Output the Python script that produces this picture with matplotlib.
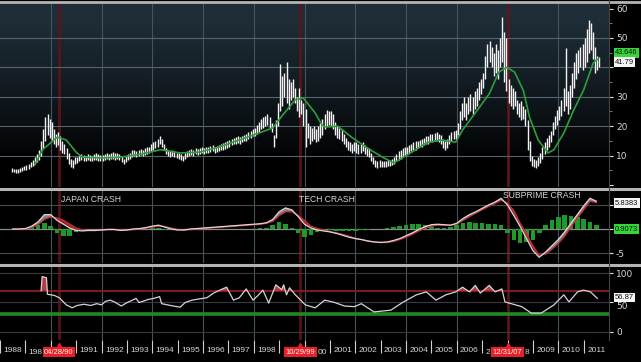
import numpy as np
import matplotlib
matplotlib.use("Agg")
import matplotlib.pyplot as plt
from matplotlib.lines import Line2D

# ---- price bars: monthly low/high, Jun 1988 .. Aug 2011 ----
price_low = [
    4.5, 4.3, 4.2, 4.0, 4.3, 4.6, 5.0,  # 1988
    5.2, 5.5, 6.0, 6.5, 7.0, 7.8, 8.5, 10.0, 12.5, 15.0, 17.0, 16.0,  # 1989
    15.0, 14.0, 13.0, 13.5, 12.0, 11.0, 10.5, 9.0, 7.0, 6.0, 5.8, 7.0,  # 1990
    7.5, 8.0, 8.5, 8.0, 8.3, 8.5, 8.2, 8.0, 8.4, 8.6, 8.2, 8.0,  # 1991
    8.3, 8.6, 8.8, 8.5, 8.9, 9.0, 8.6, 8.8, 8.5, 7.8, 7.0, 7.8,  # 1992
    8.5, 9.0, 9.5, 9.8, 9.5, 10.0, 10.2, 9.8, 10.3, 10.5, 10.8, 11.5,  # 1993
    12.0, 12.5, 13.0, 14.0, 13.0, 12.0, 10.5, 10.0, 9.5, 9.8, 9.5, 9.2,  # 1994
    9.0, 8.5, 8.0, 8.8, 9.5, 10.0, 10.2, 10.0, 10.5, 10.3, 10.6, 10.8,  # 1995
    10.5, 10.8, 11.0, 11.2, 11.5, 11.0, 11.3, 11.6, 11.8, 12.0, 12.3, 12.5,  # 1996
    13.0, 13.5, 13.8, 14.0, 14.3, 14.0, 14.5, 14.8, 15.0, 15.5, 16.0, 16.5,  # 1997
    16.8, 17.5, 18.0, 19.0, 19.5, 20.0, 20.5, 19.5, 18.0, 13.0, 16.0, 20.0,  # 1998
    25.0, 27.0, 30.0, 28.0, 26.0, 29.0, 30.0, 28.0, 25.0, 23.0, 24.0, 20.0,  # 1999
    13.0, 16.0, 14.0, 15.0, 15.5, 14.5, 15.0, 16.0, 17.0, 19.0, 20.0, 20.5,  # 2000
    20.0, 19.0, 17.0, 16.0, 15.5, 15.0, 14.0, 13.0, 12.0, 11.5, 11.0, 11.5,  # 2001
    11.0, 10.5, 11.0, 11.5, 10.5, 10.0, 9.5, 8.0, 7.0, 6.0, 5.8, 6.2,  # 2002
    6.0, 6.2, 6.0, 6.5, 6.3, 6.8, 7.0, 8.0, 8.5, 9.0, 9.5, 10.0,  # 2003
    10.5, 11.0, 11.5, 12.0, 12.0, 12.5, 12.8, 13.0, 13.5, 14.0, 14.0, 14.5,  # 2004
    14.5, 14.8, 15.0, 14.5, 14.0, 12.5, 12.0, 12.5, 14.0, 15.0, 15.5, 15.5,  # 2005
    17.0, 19.0, 22.0, 23.0, 22.0, 24.0, 25.0, 24.0, 26.0, 27.0, 29.0, 31.0,  # 2006
    33.0, 36.0, 40.0, 42.0, 40.0, 37.0, 38.0, 36.0, 40.0, 42.0, 35.0, 32.0,  # 2007
    28.0, 27.0, 26.0, 27.0, 24.0, 23.0, 22.0, 22.5, 20.0, 12.0, 8.0, 6.5,  # 2008
    6.0, 5.8, 6.5, 7.5, 9.0, 10.5, 12.0, 13.0, 14.5, 17.0, 19.0, 20.5,  # 2009
    22.0, 23.5, 25.0, 27.0, 24.0, 26.0, 30.0, 33.0, 36.0, 38.0, 40.0, 39.0,  # 2010
    40.0, 42.0, 45.0, 46.0, 43.0, 38.0, 39.0, 40.0,  # 2011
]
price_high = [
    5.8, 5.6, 5.5, 5.4, 5.7, 6.2, 6.6,
    6.8, 7.2, 7.8, 8.5, 9.5, 10.5, 12.0, 15.0, 19.0, 23.0, 24.0, 22.5,
    21.5, 19.0, 17.5, 18.0, 16.5, 15.0, 14.0, 12.5, 11.0, 9.0, 8.5, 9.5,
    9.5, 10.0, 10.5, 10.2, 10.0, 10.5, 10.3, 10.0, 10.6, 10.8, 10.4, 10.2,
    10.3, 10.6, 11.0, 10.7, 11.0, 11.2, 10.8, 10.9, 10.6, 9.8, 9.0, 9.8,
    10.5, 11.0, 11.8, 12.0, 11.5, 12.0, 12.4, 12.0, 12.5, 12.8, 13.0, 13.8,
    14.5, 15.0, 15.5, 16.5, 15.5, 14.0, 12.5, 12.0, 11.5, 11.8, 11.5, 11.0,
    11.0, 10.5, 10.0, 10.8, 11.5, 12.0, 12.2, 12.0, 12.5, 12.3, 12.6, 12.8,
    12.5, 12.8, 13.0, 13.3, 13.6, 13.0, 13.4, 13.7, 14.0, 14.2, 14.5, 15.0,
    15.2, 15.7, 16.0, 16.3, 16.5, 16.2, 16.8, 17.0, 17.5, 18.0, 18.5, 19.0,
    19.5, 20.5, 21.5, 22.5, 23.0, 23.5, 24.0, 23.0, 21.0, 17.0, 22.0, 28.0,
    41.0, 37.0, 38.0, 42.0, 36.0, 35.0, 36.0, 33.0, 30.0, 33.0, 29.0, 28.0,
    26.0, 21.0, 20.0, 19.5, 20.0, 19.0, 20.0, 21.0, 22.5, 24.0, 25.5, 25.0,
    25.0, 24.0, 21.5, 20.0, 19.5, 19.0, 17.5, 16.0, 15.0, 14.5, 14.0, 14.5,
    14.5, 14.0, 14.0, 14.5, 13.5, 13.0, 12.5, 11.0, 9.5, 8.5, 8.0, 8.5,
    8.0, 8.3, 8.2, 8.5, 8.4, 9.0, 9.5, 10.5, 11.5, 12.0, 12.5, 13.0,
    13.0, 13.5, 14.0, 14.5, 14.8, 15.0, 15.3, 15.5, 16.0, 16.5, 16.8, 17.5,
    17.5, 17.8, 18.0, 17.5, 17.0, 15.5, 15.0, 15.5, 17.0, 18.0, 18.5, 18.8,
    21.0, 25.0, 28.0, 30.0, 28.0, 30.0, 31.0, 30.0, 32.0, 33.0, 35.0, 36.0,
    38.0, 44.0, 48.0, 49.0, 47.0, 45.0, 48.0, 46.0, 50.0, 57.0, 52.0, 50.0,
    36.0, 34.0, 33.0, 32.0, 29.0, 28.0, 28.5, 27.0, 26.0, 22.0, 15.0, 10.0,
    9.0, 8.5, 9.5, 11.0, 13.0, 14.5, 16.0, 17.0, 18.5, 21.5, 23.5, 25.5,
    27.0, 29.0, 33.0, 46.5, 32.0, 34.0, 38.0, 42.0, 45.0, 46.0, 47.0, 48.0,
    50.0, 53.0, 56.0, 55.0, 52.0, 47.0, 44.0, 43.5,
]

# ---- moving average (green) ----
ma_years = [1989.37, 1989.68, 1990.03, 1990.26, 1990.61, 1991.0, 1991.23, 1992.0,
            1992.78, 1993.55, 1994.33, 1995.1, 1995.88, 1996.66, 1997.43, 1998.21,
            1998.75, 1999.14, 1999.64, 1999.95, 2000.42, 2000.69, 2000.8, 2001.31,
            2001.85, 2002.47, 2003.13, 2003.52, 2004.18, 2004.8, 2005.34, 2005.96,
            2006.23, 2006.73, 2007.28, 2007.66, 2007.97, 2008.28, 2008.63, 2008.87,
            2009.21, 2009.6, 2009.83, 2010.22, 2010.61, 2011.0, 2011.38, 2011.58]
ma_values = [6.8, 12.0, 14.6, 16.3, 15.3, 11.2, 9.5, 9.2,
             9.5, 10.5, 12.0, 10.9, 11.2, 13.0, 15.3, 17.7,
             19.4, 23.8, 29.0, 29.6, 24.5, 20.4, 19.7, 20.0,
             16.3, 12.6, 9.2, 7.5, 10.9, 14.3, 15.3, 14.6,
             18.7, 24.5, 31.0, 38.4, 40.0, 38.4, 32.0, 23.0,
             15.3, 10.9, 12.0, 17.7, 25.5, 32.3, 41.5, 43.0]

# ---- MACD panel, quarterly from 1988.5 to 2011.5 ----
macd_line = [
    0.0, 0.0,
    0.1, 0.6, 1.5, 3.0,  3.0, 1.8, 1.0, 0.2,
    -0.3, -0.4, -0.3, -0.3,  -0.2, -0.1, -0.1, -0.3,
    -0.2, 0.0, 0.1, 0.3,  0.6, 0.8, 0.4, 0.0,
    -0.2, -0.2, 0.0, 0.1,  0.2, 0.3, 0.4, 0.5,
    0.6, 0.7, 0.8, 0.9,  1.0, 1.1, 1.3, 2.0,
    3.6, 4.4, 4.0, 2.6,  1.0, 0.2, -0.2, -0.4,
    -0.6, -0.9, -1.3, -1.7,  -2.0, -2.2, -2.5, -2.7,
    -2.8, -2.7, -2.4, -2.0,  -1.4, -0.8, -0.1, 0.5,
    0.9, 1.0, 0.9, 0.8,  1.2, 2.2, 3.0, 3.6,
    4.3, 5.0, 5.6, 6.4,  5.0, 2.8, 0.5, -2.0,
    -4.5, -5.9, -4.8, -3.5,  -2.2, -0.6, 1.2, 3.0,
    4.8, 6.4, 5.8,
]
macd_signal = [
    0.0, 0.0,
    0.0, 0.3, 0.9, 2.0,  2.5, 2.3, 1.8, 1.0,
    0.2, -0.2, -0.3, -0.3,  -0.2, -0.1, -0.1, -0.2,
    -0.2, -0.1, 0.0, 0.2,  0.4, 0.6, 0.5, 0.2,
    -0.1, -0.2, -0.1, 0.0,  0.1, 0.2, 0.3, 0.4,
    0.5, 0.6, 0.7, 0.8,  0.9, 1.0, 1.2, 1.6,
    2.8, 3.6, 3.6, 2.8,  1.8, 0.6, 0.1, -0.2,
    -0.5, -0.8, -1.1, -1.5,  -1.9, -2.2, -2.5, -2.7,
    -2.8, -2.8, -2.6, -2.2,  -1.7, -1.1, -0.4, 0.2,
    0.6, 0.8, 0.8, 0.8,  1.0, 1.8, 2.6, 3.3,
    4.0, 4.7, 5.3, 6.0,  5.4, 3.8, 1.2, -1.0,
    -3.5, -5.5, -5.2, -4.2,  -3.0, -1.5, 0.4, 2.3,
    4.0, 5.8, 5.5,
]
macd_hist = [
    0.0, 0.0,
    0.1, 0.4, 0.8, 1.2,  0.6, -0.8, -1.5, -1.4,
    -0.6, -0.2, 0.0, 0.0,  0.0, 0.0, 0.0, -0.1,
    0.0, 0.1, 0.1, 0.1,  0.2, 0.3, -0.2, -0.3,
    -0.2, 0.0, 0.1, 0.1,  0.1, 0.1, 0.1, 0.1,
    0.1, 0.1, 0.1, 0.1,  0.1, 0.2, 0.3, 0.8,
    1.5, 1.0, 0.2, -0.8,  -1.6, -1.2, -0.6, -0.3,
    -0.3, -0.4, -0.5, -0.5,  -0.4, -0.3, -0.2, -0.1,
    0.1, 0.3, 0.5, 0.7,  0.9, 1.0, 1.0, 0.8,
    0.5, 0.3, 0.3, 0.5,  0.9, 1.3, 1.4, 1.3,
    1.2, 1.1, 1.1, 0.8,  -0.8, -2.2, -3.0, -2.8,
    -2.2, -0.8, 0.8, 1.8,  2.5, 3.0, 2.8, 2.6,
    2.0, 1.5, 0.9,
]

# ---- RSI panel ----
rsi_years = [1989.62, 1989.66, 1989.83, 1989.87, 1990.14, 1990.34, 1990.61, 1990.84,
             1991.04, 1991.31, 1991.58, 1991.81, 1992.0, 1992.16, 1992.35, 1992.55,
             1992.78, 1992.97, 1993.17, 1993.36, 1993.48, 1993.63, 1993.83, 1994.06,
             1994.29, 1994.37, 1994.6, 1994.83, 1995.1, 1995.3, 1995.57, 1995.84,
             1996.15, 1996.42, 1996.66, 1996.93, 1997.2, 1997.43, 1997.7, 1997.97,
             1998.17, 1998.36, 1998.59, 1998.87, 1999.1, 1999.18, 1999.29, 1999.41,
             1999.64, 2000.03, 2000.42, 2000.8, 2001.19, 2001.58, 2001.97, 2002.24,
             2002.74, 2003.4, 2003.9, 2004.41, 2004.8, 2005.18, 2005.57, 2005.96,
             2006.23, 2006.5, 2006.73, 2006.93, 2007.28, 2007.51, 2007.78, 2007.9,
             2008.56, 2008.94, 2009.33, 2009.83, 2010.22, 2010.42, 2010.76, 2011.0,
             2011.27, 2011.54]
rsi_values = [70, 94, 92, 64, 62, 58, 46, 41,
              45, 47, 45, 48, 46, 52, 54, 50,
              44, 49, 53, 57, 50, 52, 55, 57,
              60, 48, 46, 44, 42, 50, 54, 56,
              58, 66, 71, 76, 54, 58, 73, 54,
              62, 71, 49, 80, 72, 80, 63, 75,
              63, 46, 41, 54, 50, 44, 43, 48,
              34, 37, 51, 63, 68, 54, 63, 68,
              76, 68, 79, 66, 79, 68, 73, 51,
              43, 32, 32, 46, 63, 51, 68, 71,
              68, 57]

crash_dates = [1990.32, 1999.83, 2008.0]
crash_labels = ["04/28/90", "10/29/99", "12/31/07"]
years = list(range(1988, 2012))
# year labels partly hidden behind the red date boxes
partial_left = {1989: "198", 2007: "2"}    # text ends at the box's left edge
partial_right = {2000: "00", 2008: "8"}    # text starts at the box's right edge
hidden = {1990, 1999}

XMIN, XMAX = 1988.4, 2012.0
GRID = "#45535d"
TXT = "#d6d6d6"
FONT = "Liberation Sans"

fig = plt.figure(figsize=(6.41, 3.62), dpi=100, facecolor="black")
H = 362.0
W = 641.0
right = 609 / W
ax1 = fig.add_axes([0, (362 - 187) / H, right, 184 / H])
ax2 = fig.add_axes([0, (362 - 263) / H, right, 73 / H], sharex=ax1)
ax3 = fig.add_axes([0, (362 - 340) / H, right, 74 / H], sharex=ax1)

for ax in (ax1, ax2, ax3):
    ax.set_facecolor("black")
    for s in ax.spines.values():
        s.set_visible(False)
    ax.yaxis.tick_right()
    ax.tick_params(axis="y", colors="#e0e0e0", labelcolor=TXT, labelsize=6.5,
                   length=3, width=0.8, pad=2)
    ax.tick_params(axis="y", which="minor", colors="#909090", length=2)
    for yr in range(1990, 2012, 2):
        ax.axvline(yr, color=GRID, lw=0.8, zorder=1)
    for d in crash_dates:
        ax.axvline(d, color="#5e1418", lw=2.0, alpha=0.9, zorder=1)

# --- top: price ---
grad = np.linspace(1, 0, 256).reshape(-1, 1)
grad = np.clip(grad * 1.3 - 0.2, 0, 1) ** 0.8
cols = np.zeros((256, 1, 3))
cols[:, :, 0] = grad * 0.12
cols[:, :, 1] = grad * 0.18
cols[:, :, 2] = grad * 0.22
ax1.imshow(cols, extent=[0, 1, 0, 1], transform=ax1.transAxes, aspect="auto",
           zorder=0, interpolation="bilinear")
ax1.set_xlim(XMIN, XMAX)
ax1.set_ylim(-0.68, 61.9)
for v in (10, 20, 30, 40, 50):
    ax1.axhline(v, color="#56646e", lw=0.8, zorder=1)
x_bars = 1988 + (5 + np.arange(len(price_low)) + 0.5) / 12
ax1.vlines(x_bars, price_low, price_high, color="#f2f2f2", lw=1.0, zorder=3)
ax1.plot(ma_years, ma_values, color="#2f9e3a", lw=1.2, zorder=4)
ax1.set_yticks([0, 10, 20, 30, 40, 50, 60])
ax1.set_yticklabels(["", "10", "20", "30", "", "50", "60"])
ax1.set_yticks(np.arange(5, 60, 10), minor=True)

# --- middle: MACD ---
t_q = 1988.5 + 0.25 * np.arange(len(macd_line))
ax2.set_ylim(-7.08, 8.13)
for v in (-5, 5):
    ax2.axhline(v, color="#4a4a4a", lw=0.8, zorder=1)
ax2.axhline(0, color="#8a8a8a", lw=0.9, zorder=1)
ax2.bar(t_q, macd_hist, width=0.18, color="#1e9a28", zorder=2)
m = np.array(macd_line)
s = np.array(macd_signal)
ax2.fill_between(t_q, m, s, where=m >= s, interpolate=True, color="#9c9c9c",
                 alpha=0.85, lw=0, zorder=3)
ax2.fill_between(t_q, m, s, where=m < s, interpolate=True, color="#b3222c",
                 alpha=0.9, lw=0, zorder=3)
ax2.plot(t_q, s, color="#c0303a", lw=1.0, zorder=4)
ax2.plot(t_q, m, color="#d8d8d8", lw=0.9, zorder=5)
ax2.set_yticks([-5, 0, 5])
ax2.set_yticklabels(["-5", "", ""])
for label, xx, yy in [("JAPAN CRASH", 1991.58, 6.2), ("TECH CRASH", 2000.9, 6.2),
                      ("SUBPRIME CRASH", 2009.35, 7.0)]:
    ax2.text(xx, yy, label, color=TXT, fontsize=6.2, ha="center",
             va="center", family=FONT, zorder=6)

# --- bottom: RSI ---
ax3.set_ylim(-13.6, 111.9)
for v in (0, 50, 100):
    ax3.axhline(v, color="#3a3a3a", lw=0.8, zorder=1)
ax3.axhline(70, color="#8c1c22", lw=1.3, zorder=2)
ax3.axhline(30, color="#1f8a24", lw=2.6, zorder=2)
r = np.array(rsi_values, dtype=float)
ax3.fill_between(rsi_years, r, 70, where=r > 70, interpolate=True,
                 color="#c0404a", lw=0, alpha=0.95, zorder=3)
ax3.plot(rsi_years, r, color="#d4d4d4", lw=0.9, zorder=4)
ax3.set_yticks([0, 50, 100])
ax3.set_yticklabels(["0", "50", "100"])
# the last-value tag sits over the "50" label: nudge that label down a little
ax3.get_yticklabels()[1].set_va("top")

# x axis: year separators + centred labels
for ax in (ax1, ax2):
    ax.tick_params(axis="x", which="both", bottom=False, labelbottom=False)
ax3.set_xticks(years)
ax3.set_xticklabels([])
ax3.tick_params(axis="x", which="major", colors="#cfcfcf", length=9,
                width=0.8, direction="out")
ax3.set_xticks([y + 0.5 for y in years], minor=True)
year_text = []
for y in years:
    if y in hidden or y in partial_left or y in partial_right:
        year_text.append("")
    else:
        year_text.append(str(y))
ax3.set_xticklabels(year_text, minor=True)
ax3.tick_params(axis="x", which="minor", length=0, labelsize=6,
                labelcolor=TXT, pad=5)
for lab in ax3.get_xticklabels(minor=True):
    lab.set_family(FONT)

LAB_Y = -0.165
for d, lab in zip(crash_dates, crash_labels):
    ax3.annotate(lab, xy=(d, LAB_Y), xycoords=("data", "axes fraction"),
                 ha="center", va="center", fontsize=5.5, color="white",
                 family=FONT, zorder=10, annotation_clip=False,
                 bbox=dict(boxstyle="square,pad=0.2", fc="#ee1c24", ec="none"))
    ax3.plot([d], [LAB_Y + 0.1], marker="^", ms=3, color="#ee1c24",
             transform=ax3.get_xaxis_transform(), clip_on=False, zorder=10)

for y, txt in partial_left.items():
    d = min(crash_dates, key=lambda c: abs(c - y))
    ax3.annotate(txt, xy=(d, LAB_Y), xycoords=("data", "axes fraction"),
                 xytext=(-17, 0), textcoords="offset pixels", ha="right",
                 va="center", fontsize=6, color=TXT, family=FONT,
                 annotation_clip=False)
for y, txt in partial_right.items():
    d = min(crash_dates, key=lambda c: abs(c - y))
    ax3.annotate(txt, xy=(d, LAB_Y), xycoords=("data", "axes fraction"),
                 xytext=(17, 0), textcoords="offset pixels", ha="left",
                 va="center", fontsize=6, color=TXT, family=FONT,
                 annotation_clip=False)


# value tags on the right
def tag(ax, y, text, fc, tc="#111111", size=5.5):
    ax.annotate(text, xy=(1.0, y), xycoords=("axes fraction", "data"),
                xytext=(6, 0), textcoords="offset pixels", ha="left",
                va="center", fontsize=size, color=tc, family=FONT,
                annotation_clip=False,
                bbox=dict(boxstyle="square,pad=0.15", fc=fc, ec="none"))


tag(ax1, 44.9, "43.646", "#36d63a", size=5.2)
tag(ax1, 41.79, "41.79", "#f4f4f4")
tag(ax2, 5.4, "5.8383", "#f4f4f4")
tag(ax2, 0.0, "0.9073", "#36d63a")
tag(ax3, 58.5, "56.87", "#f4f4f4")

# panel separators
for py, lw in [(1.5, 2.0), (188.5, 2.2), (264.5, 2.2)]:
    yy = 1 - py / H
    fig.add_artist(Line2D([0, 1], [yy, yy], color="#b4b4b4", lw=lw))
fig.add_artist(Line2D([right, right], [22 / H, 1], color="#444444", lw=0.8))

fig.savefig("out.png", dpi=100, facecolor="black")
